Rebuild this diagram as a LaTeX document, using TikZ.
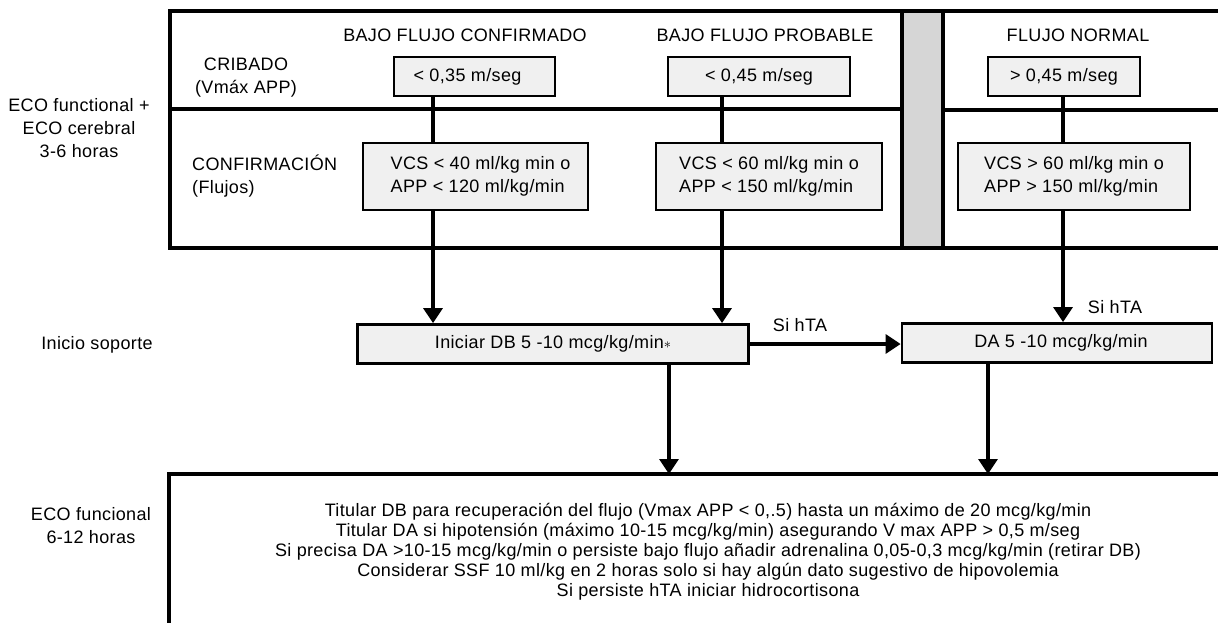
\documentclass[tikz,border=0pt]{standalone}
\usepackage{fontspec}
\setmainfont{Liberation Sans}[LetterSpace=2]
\usetikzlibrary{arrows.meta}
\definecolor{boxgray}{HTML}{F0F0F0}
\definecolor{colgray}{HTML}{D6D6D6}

\begin{document}
\begin{tikzpicture}[x=1pt,y=-1pt,
  every node/.style={font=\fontsize{18}{23}\selectfont, inner sep=0pt},
  frame/.style={line width=3.8pt},
  box/.style={draw, line width=2.8pt, fill=boxgray},
  link/.style={line width=3.2pt},
  arrow/.style={link, -{Triangle[length=15pt,width=19pt]}},
  lbl/.style={align=center},
]
\useasboundingbox (0,0) rectangle (1218,623);

% upper panel: screening / confirmation rows
\fill[colgray] (902,11) rectangle (943,248);
\draw[frame] (1230,11) -- (170,11) -- (170,248) -- (1230,248);
\draw[frame] (902,11) -- (902,248);
\draw[frame] (943,11) -- (943,248);
\draw[line width=3.3pt] (170,109) -- (902,109);
\draw[line width=4.2pt] (943,110) -- (1230,110);

% row and column headings
\node[lbl] (eco1) at (79,128) {ECO functional +\\ECO cerebral\\3-6 horas};
\node (h1) at (465,35) {BAJO FLUJO CONFIRMADO};
\node (h2) at (765,35) {BAJO FLUJO PROBABLE};
\node (h3) at (1078,35) {FLUJO NORMAL};
\node[lbl] (crib) at (246,78) {CRIBADO\\(Vmáx APP)};
\node[align=left, anchor=west] (conf) at (192,176) {CONFIRMACIÓN\\(Flujos)};

% screening boxes
\node[box, minimum width=161pt, minimum height=39pt] (b1) at (474.5,76.5) {\hspace*{-14pt}< 0,35 m/seg};
\node[box, minimum width=182pt, minimum height=39pt] (b2) at (759,76.5) {< 0,45 m/seg};
\node[box, minimum width=152pt, minimum height=39pt] (b3) at (1064,76.5) {> 0,45 m/seg};

% confirmation boxes
\node[box, align=left, minimum width=225pt, minimum height=67pt] (c1) at (475.5,176.5) {\hspace*{10pt}VCS < 40 ml/kg min o\\\hspace*{10pt}APP < 120 ml/kg/min};
\node[box, align=left, minimum width=226pt, minimum height=67pt] (c2) at (769,176.5) {VCS < 60 ml/kg min o\\APP < 150 ml/kg/min};
\node[box, align=left, minimum width=232pt, minimum height=67pt] (c3) at (1074,176.5) {VCS > 60 ml/kg min o\\APP > 150 ml/kg/min};

% support row
\node (ini) at (97,345) {Inicio soporte};
\node[box, minimum width=391pt, minimum height=39pt] (db) at (553,344) {Iniciar DB 5 -10 mcg/kg/min{\fontsize{15}{15}\selectfont$\ast$}};
\node[box, minimum width=310pt, minimum height=39pt] (da) at (1057,343) {\hspace*{8pt}DA 5 -10 mcg/kg/min};

% column axes
\coordinate (colA) at (433,0);
\coordinate (colB) at (722,0);
\coordinate (colC) at (1063,0);
\coordinate (outB) at (669,0);
\coordinate (outA) at (988,0);

\draw[link] (colA |- b1.south) -- (colA |- c1.north);
\draw[link] (colB |- b2.south) -- (colB |- c2.north);
\draw[link] (colC |- b3.south) -- (colC |- c3.north);
\draw[arrow] (colA |- c1.south) -- (colA |- db.north);
\draw[arrow] (colB |- c2.south) -- (colB |- db.north);
\draw[arrow] (colC |- c3.south) -- (colC |- da.north);
\draw[arrow] (db.east) -- (da.west |- db.east);
\node (s1) at (800,325) {Si hTA};
\node (s2) at (1115,307) {Si hTA};

% lower panel
\coordinate (bl) at (169,474);
\draw[frame] (1230,474) -- (bl) -- (169,630);
\draw[arrow] (outB |- db.south) -- (outB |- bl);
\draw[arrow] (outA |- da.south) -- (outA |- bl);

\node[lbl] (eco2) at (91,526) {ECO funcional\\6-12 horas};
\node[align=center, font=\fontsize{18}{20}\selectfont] (txt) at (708,552) {Titular DB para recuperación del flujo (Vmax APP < 0,.5) hasta un máximo de 20 mcg/kg/min\\
Titular DA si hipotensión (máximo 10-15 mcg/kg/min) asegurando V max APP > 0,5 m/seg\\
Si precisa DA >10-15 mcg/kg/min o persiste bajo flujo añadir adrenalina 0,05-0,3 mcg/kg/min (retirar DB)\\
Considerar SSF 10 ml/kg en 2 horas solo si hay algún dato sugestivo de hipovolemia\\
Si persiste hTA iniciar hidrocortisona};
\end{tikzpicture}
\end{document}
